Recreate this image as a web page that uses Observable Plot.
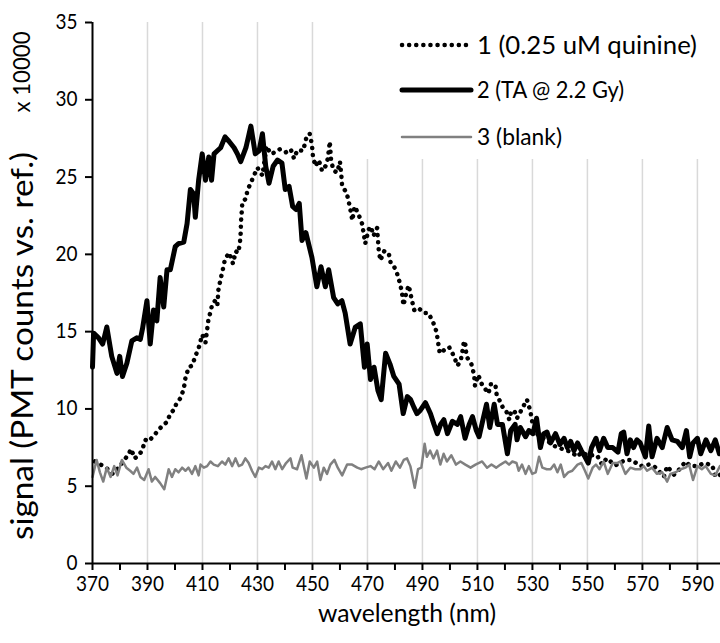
<!DOCTYPE html>
<html><head><meta charset="utf-8">
<script src="https://cdn.jsdelivr.net/npm/d3@7"></script>
<script src="https://cdn.jsdelivr.net/npm/@observablehq/plot@0.6"></script>
<style>body{margin:0;background:#fff;} #chart{width:720px;height:643px;}</style>
</head><body><div id="chart"></div>
<script>
// ---- data (wavelength in nm, signal in units of 10000) ----
const quinineNm = [370.9,373.4,375.6,377.3,379.5,381.2,382.8,384.1,385.3,386.8,388.0,389.2,390.4,393.4,395.3,397.1,398.3,399.9,400.4,402.0,403.2,403.8,405.0,406.2,407.4,408.7,409.9,411.1,412.1,413.6,414.6,415.4,415.8,416.6,417.5,418.2,419.7,421.1,422.1,423.0,423.6,423.9,424.0,424.3,424.5,425.8,426.4,427.6,428.2,430.0,431.8,433.3,434.8,436.4,438.1,440.3,442.1,443.3,444.5,446.6,448.0,449.0,449.8,450.2,451.1,452.3,453.5,454.7,455.6,456.3,456.8,457.8,459.0,460.0,460.5,460.8,462.4,463.2,463.9,464.5,465.3,466.5,468.0,468.6,469.2,470.4,471.3,472.2,473.5,474.1,474.7,476.1,477.7,478.5,479.7,480.7,481.7,482.5,483.1,484.1,485.0,486.2,487.0,488.4,490.6,492.2,493.9,495.1,495.7,496.3,497.8,499.7,501.5,502.7,503.9,504.5,505.1,505.7,506.0,507.8,508.8,509.1,510.3,511.6,514.0,514.9,516.5,517.0,518.2,519.2,520.4,521.6,522.2,523.4,524.4,526.2,528.0,529.2,529.9,532.0,535.0,538.0,541.0,544.4,546.2,548.0,550.0,553.5,555.3,557.0,560.2,563.8,566.2,569.2,572.3,575.0,577.8,579.0,581.5,583.5,585.7,587.5,590.0,592.5,595.4,596.6,598.4];
const quinineSig = [6.6,6.35,6.1,5.8,6.2,6.6,7.0,7.4,6.8,7.0,7.3,8.0,7.9,8.5,8.9,9.15,9.7,10.0,10.3,10.7,11.3,12.0,12.7,12.8,13.4,14.0,14.8,14.3,15.7,16.8,17.0,16.7,17.7,18.4,19.1,19.7,20.1,19.4,20.2,20.1,20.7,21.4,22.1,22.8,23.4,23.6,24.2,24.6,24.9,25.6,25.1,27.0,26.5,26.6,26.8,26.6,26.8,26.2,26.75,26.7,27.7,27.8,27.1,26.3,25.7,26.1,25.4,25.7,26.2,27.3,26.0,25.4,25.3,26.0,25.1,24.4,24.0,23.4,22.8,22.2,23.1,22.7,22.0,21.4,20.7,21.6,21.8,21.2,21.7,20.3,19.6,20.2,20.1,19.4,19.2,18.8,18.2,17.6,16.7,17.5,18.0,17.0,16.4,16.55,16.2,16.2,15.6,15.0,14.3,13.6,13.8,14.0,13.4,12.8,13.1,13.7,14.4,14.1,13.4,12.9,12.2,11.5,12.2,11.6,11.0,11.6,11.6,10.9,10.5,10.1,9.9,9.3,9.8,9.9,9.4,10.0,10.6,9.9,9.2,8.3,8.0,7.6,7.4,7.2,6.9,7.2,7.0,7.0,6.4,6.8,6.35,6.7,6.7,6.3,6.4,6.2,5.6,6.3,5.75,6.1,6.6,6.3,6.3,6.5,6.35,5.6,5.75];

const taNm = [370.0,370.4,372.2,373.7,375.2,377.0,378.9,379.9,380.9,382.5,384.3,386.1,387.4,388.2,389.8,391.0,392.2,393.4,394.6,395.9,397.1,398.3,400.1,401.3,403.2,404.4,405.6,406.8,407.4,408.6,409.9,411.1,412.3,413.3,414.2,415.4,416.6,418.2,419.7,421.5,422.7,423.9,425.8,427.6,429.2,430.6,431.8,433.0,434.2,435.7,437.3,438.9,440.1,441.5,442.8,444.0,445.2,446.2,447.6,449.8,451.6,453.1,454.7,455.9,457.7,459.2,460.7,461.9,463.7,465.6,467.4,468.9,469.9,471.1,472.4,473.8,475.0,476.6,478.2,479.6,481.5,483.0,484.5,485.7,486.9,488.0,489.2,491.1,492.9,494.2,495.4,496.6,497.8,499.1,500.9,502.7,503.9,505.5,507.0,508.2,509.6,510.6,512.0,513.3,514.5,516.1,517.3,519.1,520.9,522.1,523.7,524.4,525.6,527.5,528.7,530.2,531.5,532.9,534.1,535.3,536.6,538.4,540.0,541.5,542.7,543.9,545.1,546.4,547.8,549.1,550.3,551.5,553.1,554.4,555.9,557.4,559.2,561.1,562.3,563.2,564.4,565.6,566.8,568.0,569.2,571.1,572.3,573.5,575.3,577.2,579.0,580.8,582.7,584.5,586.0,587.2,588.4,590.0,591.2,593.1,594.9,596.5,598.0];
const taSig = [12.7,14.9,14.6,14.2,15.3,13.4,12.3,13.4,12.1,12.95,14.4,14.6,14.5,15.2,17.0,14.2,16.4,15.7,18.5,16.6,19.0,19.0,20.5,20.7,20.8,22.0,24.2,23.9,22.4,24.8,26.5,24.8,26.3,24.8,26.5,26.7,26.9,27.6,27.3,26.9,26.5,26.0,26.9,28.3,26.5,26.7,27.8,25.7,24.6,25.7,26.1,25.9,24.2,24.4,23.1,22.9,23.3,20.9,21.4,19.8,17.9,19.2,17.9,19.0,17.2,16.8,17.0,16.2,14.2,15.3,15.5,12.7,14.2,11.9,12.7,11.2,10.6,13.6,12.9,12.1,11.6,9.7,10.8,10.6,10.1,9.7,9.9,10.4,9.7,9.0,8.4,9.0,9.3,8.4,9.2,9.0,9.5,8.1,9.0,9.5,8.6,8.2,9.3,10.3,8.8,10.3,9.0,9.0,7.1,8.6,9.0,8.0,8.8,8.2,8.6,8.4,9.4,7.5,8.4,8.5,7.8,8.4,7.7,8.1,7.5,7.9,7.3,7.8,7.3,6.9,6.5,7.5,8.1,7.3,8.1,7.5,7.5,7.2,8.4,8.5,7.1,8.0,7.5,8.0,7.8,6.9,8.9,6.9,8.1,7.5,8.8,8.0,7.9,7.5,8.6,6.9,7.8,8.1,7.1,8.0,7.3,8.0,7.1];

const blankNm = [370.0,371.5,372.7,373.9,375.2,376.6,377.9,379.1,380.7,382.3,383.7,384.9,386.2,387.4,388.8,390.4,391.6,392.8,394.6,396.1,397.7,398.9,400.1,401.3,402.6,403.8,404.9,406.2,407.4,408.6,409.3,410.5,411.7,412.9,414.1,415.6,417.1,418.3,419.5,420.8,422.0,423.2,424.4,425.6,426.8,428.0,429.2,430.5,431.7,432.9,434.1,435.3,436.5,437.7,439.0,440.4,442.0,442.8,444.4,446.0,447.8,449.0,450.5,451.7,452.9,454.1,455.3,456.5,458.0,459.2,460.8,462.6,464.4,466.3,467.7,469.3,471.1,472.6,474.1,475.7,477.5,478.7,480.3,481.8,483.2,484.4,485.6,487.2,488.4,489.6,490.8,491.6,492.8,494.0,495.3,496.5,497.7,498.9,500.5,502.2,503.8,505.6,507.5,509.3,511.7,513.5,515.1,516.8,518.4,520.2,521.5,522.7,524.2,525.0,526.2,527.5,528.7,529.9,531.2,532.4,533.6,535.2,536.6,537.9,539.1,540.3,541.5,543.0,544.5,546.4,547.8,549.1,550.3,551.9,553.1,554.4,555.9,557.4,559.2,560.8,562.0,563.8,565.6,567.4,569.2,570.5,571.7,573.5,575.3,577.2,579.0,580.2,582.1,583.9,585.7,587.0,588.4,590.0,591.6,593.0,594.9,596.5,598.2];
const blankSig = [5.6,6.7,5.9,5.3,6.2,5.6,6.3,5.7,6.7,6.2,6.0,5.8,6.2,5.6,5.4,6.1,5.3,5.6,5.2,4.8,6.1,5.6,6.1,5.9,6.2,6.0,6.2,5.8,6.3,5.7,6.4,6.2,6.3,6.6,6.4,6.3,6.6,6.4,6.8,6.3,6.8,6.3,6.4,6.8,6.5,6.0,5.6,6.2,6.1,6.3,6.2,6.6,6.1,6.6,6.1,6.5,6.8,6.2,6.1,7.0,5.5,6.6,6.2,6.6,5.4,6.2,5.8,6.4,6.7,6.2,5.7,6.4,6.4,6.2,6.1,6.2,6.3,6.1,6.6,6.1,6.5,6.0,6.6,6.2,6.7,6.8,6.3,4.9,6.1,6.2,7.75,6.9,7.3,6.8,7.3,6.4,7.1,6.6,7.0,6.4,6.6,6.4,6.2,6.4,6.6,6.2,6.4,6.2,6.4,6.6,6.4,6.6,6.5,6.0,6.4,5.8,6.3,5.8,5.9,6.9,6.2,6.1,6.1,6.4,5.9,6.4,5.6,5.9,6.0,6.4,6.5,6.0,5.5,6.2,6.4,6.1,6.6,5.8,6.5,6.5,6.6,5.8,6.2,6.1,6.1,6.3,6.0,6.2,5.8,5.9,5.3,5.8,5.9,6.1,6.2,6.4,5.4,6.3,6.1,6.3,5.8,5.7,6.3];

const yTicks = [0,5,10,15,20,25,30,35];
const xTicks = [370,390,410,430,450,470,490,510,530,550,570,590];
const xMinorTicks = [380,400,420,440,460,480,500,520,540,560,580];
const gridNm = [390,410,430,450,470,490,510,530,550,570,590];
const legendLabels = ["1 (0.25 uM quinine)", "2 (TA @ 2.2 Gy)", "3 (blank)"];
const xTitle = "wavelength (nm)";
const yTitle = "signal (PMT counts vs. ref.)";
const yUnit = "x 10000";

// ---- chart ----
const FONT = "Lato, 'Noto Sans', sans-serif";
const rows = (xs, ys) => xs.map((x, i) => ({nm: x, v: ys[i]}));

const plot = Plot.plot({
  width: 720, height: 643,
  marginTop: 22, marginRight: 0, marginBottom: 80, marginLeft: 92,
  style: {fontFamily: FONT, color: "#000", background: "#fff"},
  x: {domain: [370, 598.4]},
  y: {domain: [0, 35]},
  marks: [
    Plot.ruleX(gridNm, {stroke: "#d9d9d9", strokeWidth: 1.5}),
    Plot.line(rows(quinineNm, quinineSig), {x: "nm", y: "v", stroke: "#000", strokeWidth: 4.5, strokeDasharray: "0.1,7", strokeLinecap: "round"}),
    Plot.line(rows(taNm, taSig), {x: "nm", y: "v", stroke: "#000", strokeWidth: 5, strokeLinejoin: "round", strokeLinecap: "round"}),
    Plot.line(rows(blankNm, blankSig), {x: "nm", y: "v", stroke: "#808080", strokeWidth: 2.5, strokeLinejoin: "round"}),
    Plot.ruleY([0], {stroke: "#000", strokeWidth: 2}),
    Plot.ruleX([370], {stroke: "#000", strokeWidth: 2}),
    Plot.axisY({ticks: yTicks, tickSize: 7, tickFormat: () => "", label: null, strokeWidth: 2}),
    Plot.axisX({ticks: xTicks, tickSize: 7, tickFormat: () => "", label: null, strokeWidth: 2}),
    Plot.axisX({ticks: xMinorTicks, tickSize: 7, tickFormat: () => "", label: null, strokeWidth: 2}),
    // tick labels drawn as text marks through the scales
    Plot.text(xTicks, {x: d => d, y: () => 0, dy: 21, text: d => String(d), fill: "#000"}),
    Plot.text(yTicks, {x: () => 370, y: d => d, dx: -15, textAnchor: "end", text: d => String(d), fill: "#000"})
  ]
});

const svg = d3.select(plot);
// tick labels: size + exact width per digit (Calibri-like wide digits)
svg.selectAll('g[aria-label="text"] text').each(function() {
  const t = d3.select(this);
  t.style("font-size", "20.5px").style("font-family", FONT)
   .attr("textLength", 11 * t.text().length).attr("lengthAdjust", "spacingAndGlyphs");
});

const g = svg.append("g").attr("font-family", FONT).attr("fill", "#000");
const addText = (sel, size, len) => sel.style("font-size", size + "px").attr("textLength", len).attr("lengthAdjust", "spacingAndGlyphs");
// legend
g.append("rect").attr("x", 336).attr("y", 22).attr("width", 384).attr("height", 137).attr("fill", "#fff");
const legY = [45, 90, 137];
const legLen = [220, 147, 85];
const legSize = [24.5, 22.5, 22.5];
const legStyles = [
  {stroke: "#000", w: 4.5, dash: "0.1,7"},
  {stroke: "#000", w: 5, dash: null},
  {stroke: "#808080", w: 2.5, dash: null}
];
legendLabels.forEach((lab, i) => {
  const s = legStyles[i];
  const ln = g.append("line").attr("x1", 402).attr("x2", 471).attr("y1", legY[i]).attr("y2", legY[i])
    .attr("stroke", s.stroke).attr("stroke-width", s.w).attr("stroke-linecap", "round");
  if (s.dash) ln.attr("stroke-dasharray", s.dash);
  addText(g.append("text").attr("x", 477).attr("y", legY[i]).attr("dy", "0.35em")
    .attr("text-anchor", "start").text(lab), legSize[i], legLen[i]);
});
// axis titles
addText(g.append("text").attr("x", 407).attr("y", 613).attr("dy", "0.35em").attr("text-anchor", "middle").text(xTitle), 25, 178);
addText(g.append("text").attr("transform", "translate(22,346) rotate(-90)").attr("dy", "0.35em")
  .attr("text-anchor", "middle").text(yTitle), 30, 388);
addText(g.append("text").attr("transform", "translate(22,72) rotate(-90)").attr("dy", "0.35em")
  .attr("text-anchor", "middle").text(yUnit), 24, 81);

document.getElementById("chart").appendChild(plot);
</script>
</body></html>
